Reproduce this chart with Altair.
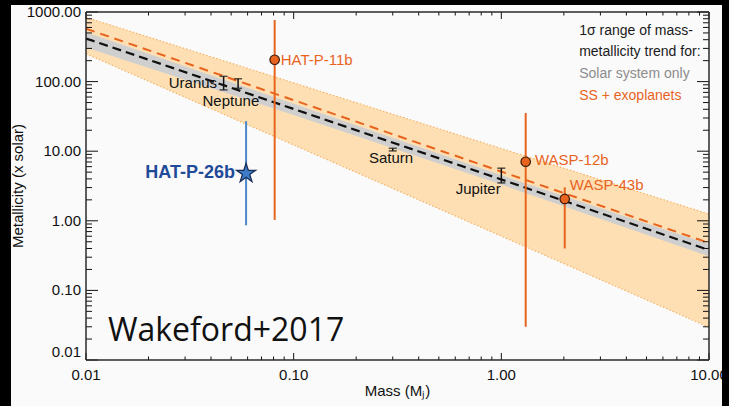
import altair as alt
import pandas as pd

W, H = 623, 348
FONT = "Liberation Sans"
ORANGE = "#e8641e"
BLUE_TXT = "#1f4b99"

# ---- axis tick values and tick labels ----
x_major = [0.01, 0.1, 1.0, 10.0]
x_tick_labels = ["0.01", "0.10", "1.00", "10.00"]
y_major = [0.01, 0.1, 1.0, 10.0, 100.0, 1000.0]
y_tick_labels = ["0.01", "0.10", "1.00", "10.00", "100.00", "1000.00"]
x_minor = [round(m * d, 6) for d in [0.01, 0.1, 1.0] for m in range(2, 10)]
y_minor = [round(m * d, 6) for d in [0.01, 0.1, 1.0, 10.0, 100.0] for m in range(2, 10)]
x_title = ["Mass (Mⱼ)"]
y_title = ["Metallicity (x solar)"]

# ---- trend lines (mass in M_J, metallicity x solar) ----
trend_mass = [0.01, 10.0]
ss_trend = [417.0, 0.38]
ssexo_trend = [575.0, 0.48]

# 1-sigma bands
oband_mass = [0.01, 10.0]
oband_lo = [251.0, 0.0295]
oband_hi = [839.0, 1.25]

gband_mass = [0.01, 0.1, 1.0, 10.0]
gband_lo = [309.0, 33.1, 3.31, 0.309]
gband_hi = [513.0, 47.9, 4.52, 0.462]

# solar-system planets (error ranges)
solar_names = ["Uranus", "Neptune", "Saturn", "Jupiter"]
solar_mass = [0.046, 0.054, 0.30, 1.0]
solar_lo = [76.0, 80.0, 10.1, 3.5]
solar_hi = [119.0, 110.0, 11.0, 5.7]

# exoplanets
exo_names = ["HAT-P-11b", "WASP-12b", "WASP-43b"]
exo_mass = [0.081, 1.31, 2.02]
exo_z = [206.0, 7.06, 2.06]
exo_lo = [1.03, 0.03, 0.40]
exo_hi = [767.0, 35.4, 3.03]

hp26_name = ["HAT-P-26b"]
hp26_mass = [0.059]
hp26_z = [4.8]
hp26_lo = [0.86]
hp26_hi = [27.0]

# label anchor positions (data coordinates)
solar_lab_text = ["Uranus", "Neptune", "Saturn", "Jupiter"]
solar_lab_mass = [0.0428, 0.0364, 0.2304, 0.6026]
solar_lab_z = [95.5, 53.2, 7.9, 2.86]
solar_lab_align = ["right", "left", "left", "left"]

exo_lab_mass = [0.0866, 1.452, 2.138]
exo_lab_z = [206.0, 7.48, 3.27]

hp26_lab_mass = [0.0522]
hp26_lab_z = [4.87]

legend_lines = ["1σ range of mass-", "metallicity trend for:", "Solar system only", "SS + exoplanets"]
legend_colors = ["#1a1a1a", "#1a1a1a", "#8c8c8c", ORANGE]
legend_mass = [2.37, 2.37, 2.37, 2.37]
legend_z = [538.0, 264.0, 128.5, 62.7]

credit_text = ["Wakeford+2017"]
credit_mass = [0.01276]
credit_z = [0.019]

# ---- frame / tick geometry helpers (pixel lengths -> log-scale factors) ----
XMIN, XMAX, YMIN, YMAX = 0.01, 10.0, 0.01, 1000.0


def xf(px):
    return 10 ** (px / (W / 3.0))


def yf(px):
    return 10 ** (px / (H / 5.0))


# ---- data frames ----
trend_df = pd.DataFrame({"mass": trend_mass, "ss": ss_trend, "ssexo": ssexo_trend})
oband_df = pd.DataFrame({"mass": oband_mass, "lo": oband_lo, "hi": oband_hi})
gband_df = pd.DataFrame({"mass": gband_mass, "lo": gband_lo, "hi": gband_hi})
solar_df = pd.DataFrame({"name": solar_names, "mass": solar_mass, "lo": solar_lo, "hi": solar_hi})
exo_df = pd.DataFrame({"name": exo_names, "mass": exo_mass, "z": exo_z, "lo": exo_lo, "hi": exo_hi,
                       "lm": exo_lab_mass, "lz": exo_lab_z})
hp26_df = pd.DataFrame({"name": hp26_name, "mass": hp26_mass, "z": hp26_z, "lo": hp26_lo, "hi": hp26_hi,
                        "lm": hp26_lab_mass, "lz": hp26_lab_z})
slab_df = pd.DataFrame({"t": solar_lab_text, "m": solar_lab_mass, "z": solar_lab_z, "a": solar_lab_align})
leg_df = pd.DataFrame({"t": legend_lines, "c": legend_colors, "m": legend_mass, "z": legend_z})
credit_df = pd.DataFrame({"t": credit_text, "m": credit_mass, "z": credit_z})
one_df = pd.DataFrame({"k": [0]})
xlab_df = pd.DataFrame({"v": x_major, "t": x_tick_labels})
ylab_df = pd.DataFrame({"v": y_major, "t": y_tick_labels})
xtitle_df = pd.DataFrame({"t": x_title})
ytitle_df = pd.DataFrame({"t": y_title})

# x ticks: bottom (from YMIN upward) and top (from YMAX downward)
xt_rows = []
for v in x_major:
    xt_rows.append({"v": v, "a": YMIN, "b": YMIN * yf(7)})
    xt_rows.append({"v": v, "a": YMAX / yf(7), "b": YMAX})
for v in x_minor:
    xt_rows.append({"v": v, "a": YMIN, "b": YMIN * yf(3.5)})
    xt_rows.append({"v": v, "a": YMAX / yf(3.5), "b": YMAX})
xt_df = pd.DataFrame(xt_rows)

# y ticks: left (from XMIN rightward) and right (from XMAX leftward)
yt_rows = []
for v in y_major:
    yt_rows.append({"v": v, "a": XMIN, "b": XMIN * xf(12)})
    yt_rows.append({"v": v, "a": XMAX / xf(12), "b": XMAX})
for v in y_minor:
    yt_rows.append({"v": v, "a": XMIN, "b": XMIN * xf(6)})
    yt_rows.append({"v": v, "a": XMAX / xf(6), "b": XMAX})
yt_df = pd.DataFrame(yt_rows)

frame_df = pd.DataFrame({
    "x0": [XMIN, XMIN, XMIN, XMAX],
    "x1": [XMAX, XMAX, XMIN, XMAX],
    "y0": [YMAX, YMIN, YMIN, YMIN],
    "y1": [YMAX, YMIN, YMAX, YMAX],
})

XS = alt.Scale(type="log", domain=[XMIN, XMAX], nice=False)
YS = alt.Scale(type="log", domain=[YMIN, YMAX], nice=False)


def X(field):
    return alt.X(field, type="quantitative", scale=XS, axis=None)


def Y(field):
    return alt.Y(field, type="quantitative", scale=YS, axis=None)


oband = alt.Chart(oband_df).mark_area(color="#fddfb3", opacity=1).encode(
    x=X("mass"), y=Y("lo"), y2="hi")

oedge_hi = alt.Chart(oband_df).mark_line(color="#f5b468", strokeDash=[1.5, 2], strokeWidth=1.2).encode(
    x=X("mass"), y=Y("hi"))
oedge_lo = alt.Chart(oband_df).mark_line(color="#f5b468", strokeDash=[1.5, 2], strokeWidth=1.2).encode(
    x=X("mass"), y=Y("lo"))

gband = alt.Chart(gband_df).mark_area(color="#cfcfcf", opacity=1).encode(
    x=X("mass"), y=Y("lo"), y2="hi")

ss_line = alt.Chart(trend_df).mark_line(color="#111111", strokeDash=[9, 5], strokeWidth=2.2).encode(
    x=X("mass"), y=Y("ss"))
exo_line = alt.Chart(trend_df).mark_line(color=ORANGE, strokeDash=[9, 6], strokeWidth=2).encode(
    x=X("mass"), y=Y("ssexo"))

solar_rule = alt.Chart(solar_df).mark_rule(color="#111111", strokeWidth=1.5).encode(
    x=X("mass"), y=Y("lo"), y2="hi")
solar_cap_lo = alt.Chart(solar_df).mark_tick(orient="horizontal", size=8, thickness=1.5, color="#111111").encode(
    x=X("mass"), y=Y("lo"))
solar_cap_hi = alt.Chart(solar_df).mark_tick(orient="horizontal", size=8, thickness=1.5, color="#111111").encode(
    x=X("mass"), y=Y("hi"))

exo_rule = alt.Chart(exo_df).mark_rule(color=ORANGE, strokeWidth=2).encode(
    x=X("mass"), y=Y("lo"), y2="hi")
hp26_rule = alt.Chart(hp26_df).mark_rule(color="#4a88c8", strokeWidth=2).encode(
    x=X("mass"), y=Y("lo"), y2="hi")

exo_pts = alt.Chart(exo_df).mark_point(shape="circle", filled=True, fill=ORANGE, stroke="#3a1a08",
                                       strokeWidth=1.2, size=90, opacity=1).encode(
    x=X("mass"), y=Y("z"))

STAR = ("M0,-1L0.2245,-0.309L0.951,-0.309L0.363,0.118L0.588,0.809L0,0.382"
        "L-0.588,0.809L-0.363,0.118L-0.951,-0.309L-0.2245,-0.309Z")
hp26_pt = alt.Chart(hp26_df).mark_point(shape=STAR, filled=True, fill="#3d7cc9", stroke="#1a2e55",
                                        strokeWidth=1.3, size=400, opacity=1).encode(
    x=X("mass"), y=Y("z"))

# inward tick marks on all four sides and the plot frame, all through the scales
xticks = alt.Chart(xt_df).mark_rule(color="#111111", strokeWidth=1).encode(
    x=X("v"), y=Y("a"), y2="b")
yticks = alt.Chart(yt_df).mark_rule(color="#111111", strokeWidth=1).encode(
    y=Y("v"), x=X("a"), x2="b")
frame = alt.Chart(frame_df).mark_rule(color="#2a2a2a", strokeWidth=1.5).encode(
    x=X("x0"), x2="x1", y=Y("y0"), y2="y1")

# tick labels and axis titles drawn as text
LBL = dict(font=FONT, fontSize=15, color="#111111")
xlab = alt.Chart(xlab_df).mark_text(align="center", baseline="top", **LBL).encode(
    x=X("v"), y=alt.value(H + 8), text="t:N")
ylab = alt.Chart(ylab_df).transform_filter("datum.v > 0.02").mark_text(
    align="right", baseline="middle", **LBL).encode(
    y=Y("v"), x=alt.value(-5), text="t:N")
ylab_bottom = alt.Chart(ylab_df).transform_filter("datum.v < 0.02").mark_text(
    align="right", baseline="bottom", **LBL).encode(
    y=Y("v"), x=alt.value(-5), text="t:N")
xtitle = alt.Chart(xtitle_df).mark_text(align="center", baseline="middle", **LBL).encode(
    x=alt.value(W / 2), y=alt.value(H + 31), text="t:N")
ytitle = alt.Chart(ytitle_df).mark_text(align="center", baseline="middle", angle=270, **LBL).encode(
    x=alt.value(-68), y=alt.value(H / 2), text="t:N")

slab_r = alt.Chart(slab_df).transform_filter("datum.a == 'right'").mark_text(
    align="right", baseline="middle", font=FONT, fontSize=15, color="#111111").encode(
    x=X("m"), y=Y("z"), text="t:N")
slab_l = alt.Chart(slab_df).transform_filter("datum.a == 'left'").mark_text(
    align="left", baseline="middle", font=FONT, fontSize=15, color="#111111").encode(
    x=X("m"), y=Y("z"), text="t:N")

exo_lab = alt.Chart(exo_df).mark_text(align="left", baseline="middle", font=FONT, fontSize=15,
                                      color=ORANGE).encode(
    x=X("lm"), y=Y("lz"), text="name:N")

hp26_lab = alt.Chart(hp26_df).mark_text(align="right", baseline="middle", font=FONT, fontSize=18,
                                        fontWeight="bold", color=BLUE_TXT).encode(
    x=X("lm"), y=Y("lz"), text="name:N")

leg = alt.Chart(leg_df).mark_text(align="left", baseline="middle", font=FONT, fontSize=14).encode(
    x=X("m"), y=Y("z"), text="t:N", color=alt.Color("c:N", scale=None))

credit = alt.Chart(credit_df).mark_text(align="left", baseline="alphabetic", font="Open Sans",
                                        fontSize=32, color="#111111").encode(
    x=X("m"), y=Y("z"), text="t:N")

# black screen border around the slide (left, top, right strips)
BK = dict(color="#000000")
strip_left = alt.Chart(one_df).mark_rect(**BK).encode(
    x=alt.value(-86), x2=alt.value(-75), y=alt.value(-12), y2=alt.value(H + 46))
strip_top = alt.Chart(one_df).mark_rect(**BK).encode(
    x=alt.value(-86), x2=alt.value(W + 20), y=alt.value(-12), y2=alt.value(-7))
strip_right = alt.Chart(one_df).mark_rect(**BK).encode(
    x=alt.value(W + 13), x2=alt.value(W + 20), y=alt.value(-12), y2=alt.value(H + 46))

chart = alt.layer(
    oband, oedge_hi, oedge_lo, gband, ss_line, exo_line,
    solar_rule, solar_cap_lo, solar_cap_hi, exo_rule, hp26_rule, exo_pts, hp26_pt,
    xticks, yticks, frame,
    xlab, ylab, ylab_bottom, xtitle, ytitle,
    slab_r, slab_l, exo_lab, hp26_lab, leg, credit,
    strip_left, strip_top, strip_right
).resolve_scale(x="shared", y="shared").properties(
    width=W, height=H,
    padding={"left": 86, "top": 12, "right": 20, "bottom": 46},
    autosize=alt.AutoSizeParams(type="none"),
    background="#fafafa",
).configure_view(strokeWidth=0)

chart.save("out.html", embed_options={"renderer": "svg", "actions": False})
